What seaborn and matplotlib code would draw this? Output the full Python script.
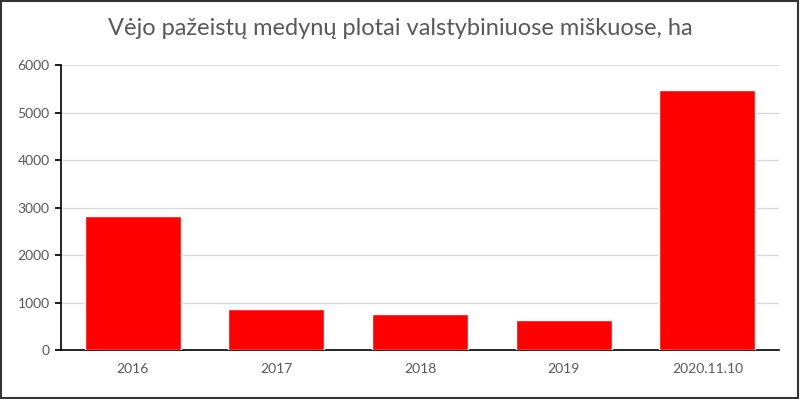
import matplotlib.pyplot as plt
import seaborn as sns
import pandas as pd

# chart data
years = ["2016", "2017", "2018", "2019", "2020.11.10"]
areas = [2830, 870, 760, 645, 5475]
y_ticks = [0, 1000, 2000, 3000, 4000, 5000, 6000]

df = pd.DataFrame({"year": years, "area": areas})

sns.set_theme(style="white")
plt.rcParams["font.family"] = ["Lato", "DejaVu Sans"]

fig = plt.figure(figsize=(8, 3.99), dpi=100)
ax = fig.add_axes([0.076, 0.122, 0.898, 0.715])

sns.barplot(data=df, x="year", y="area", color="#ff0000", saturation=1,
            width=0.67, ax=ax, zorder=3)

ax.set_ylim(0, 6000)
ax.set_yticks(y_ticks)
ax.set_xlim(-0.5, 4.5)
ax.yaxis.grid(True, color="#d9d9d9", linewidth=1, zorder=0)
ax.set_axisbelow(True)

for side in ["top", "right"]:
    ax.spines[side].set_visible(False)
ax.spines["left"].set_color("black")
ax.spines["bottom"].set_color("black")
ax.spines["left"].set_linewidth(1.2)
ax.spines["bottom"].set_linewidth(1.2)

ax.tick_params(axis="y", length=4, color="black", left=True, labelsize=10,
               labelcolor="#595959", pad=4)
ax.tick_params(axis="x", length=0, labelsize=10, labelcolor="#595959", pad=9)
ax.set_xlabel("")
ax.set_ylabel("")

fig.suptitle("Vėjo pažeistų medynų plotai valstybiniuose miškuose, ha",
             fontsize=17, color="#595959", y=0.955)

# image frame
fig.patches.append(plt.Rectangle((0.001, 0.002), 0.997, 0.996,
                                 transform=fig.transFigure, fill=False,
                                 edgecolor="#333333", linewidth=1.5))

fig.savefig("out.png", dpi=100)
